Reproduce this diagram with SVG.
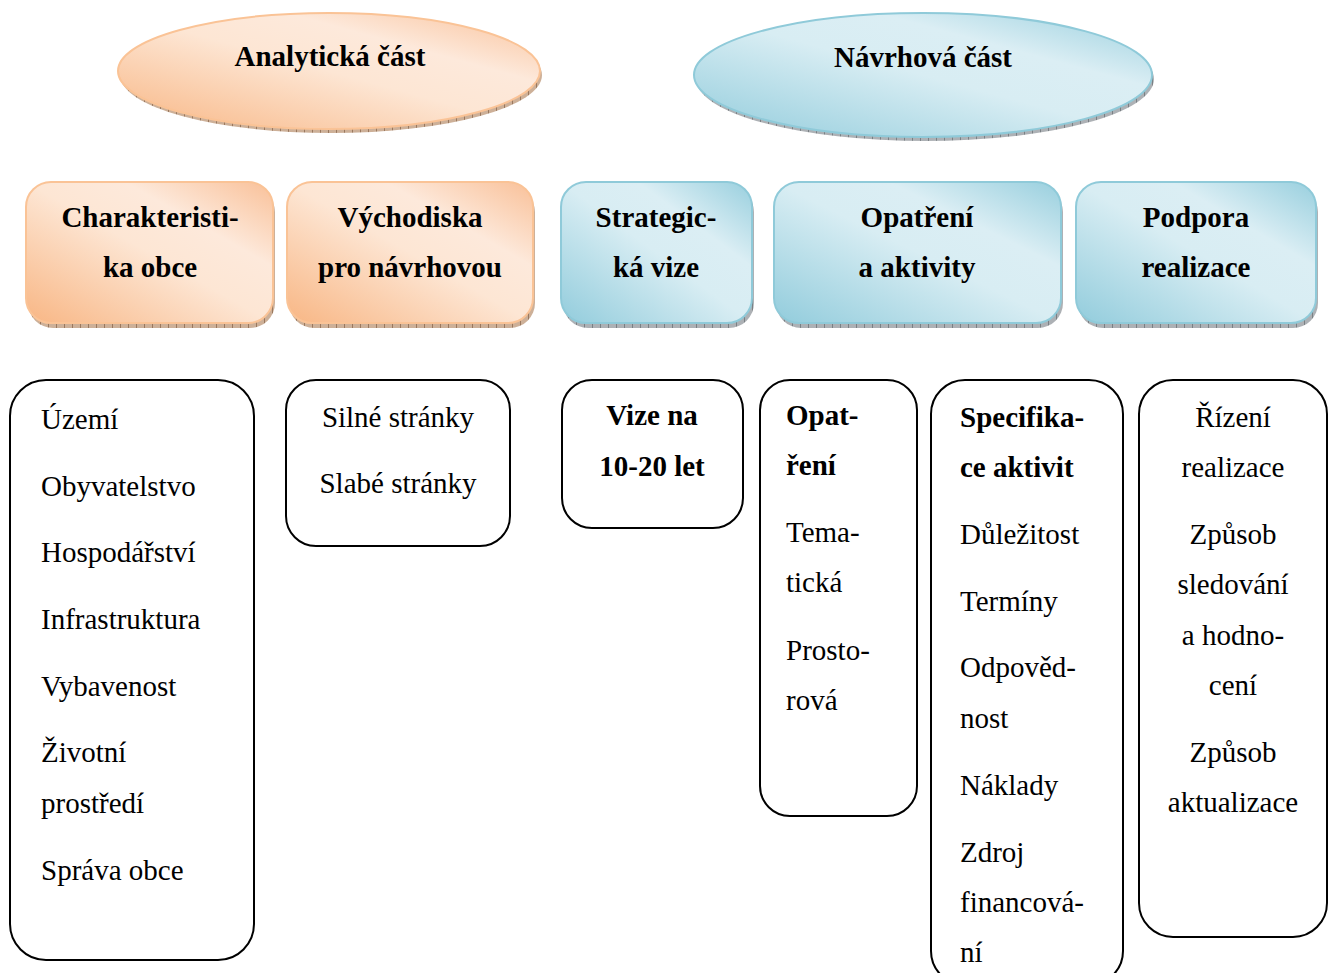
<svg xmlns="http://www.w3.org/2000/svg" width="1333" height="973" viewBox="0 0 1333 973">
<defs>
  <linearGradient id="gOr" x1="0" y1="1" x2="1" y2="0">
    <stop offset="0" stop-color="#F8B684"/>
    <stop offset="0.5" stop-color="#FDE6D4"/>
    <stop offset="0.7" stop-color="#FDE9DB"/>
    <stop offset="1" stop-color="#F9C098"/>
  </linearGradient>
  <linearGradient id="gBl" x1="0" y1="1" x2="1" y2="0">
    <stop offset="0" stop-color="#92CCDC"/>
    <stop offset="0.5" stop-color="#D8EDF3"/>
    <stop offset="0.7" stop-color="#DBEEF4"/>
    <stop offset="1" stop-color="#98CFDE"/>
  </linearGradient>
  <pattern id="hOr" width="8" height="8" patternUnits="userSpaceOnUse">
    <rect width="8" height="8" fill="#CDB098"/>
    <line x1="0.5" y1="0" x2="0.5" y2="8" stroke="#9A785E" stroke-width="1"/>
  </pattern>
  <pattern id="hBl" width="8" height="8" patternUnits="userSpaceOnUse">
    <rect width="8" height="8" fill="#ADB1B5"/>
    <line x1="0.5" y1="0" x2="0.5" y2="8" stroke="#7A8084" stroke-width="1"/>
  </pattern>
</defs>
<style>
  .t { font-family: "Liberation Serif", "Times New Roman", serif; font-size: 29px; fill: #000; }
  .b { font-weight: bold; }
  .m { text-anchor: middle; }
  .or { fill: url(#gOr); stroke: #FAC396; stroke-width: 2; }
  .bl { fill: url(#gBl); stroke: #8FCAD9; stroke-width: 2; }
  .shO { fill: url(#hOr); }
  .shB { fill: url(#hBl); }
  .box { fill: #FFFFFF; stroke: #000; stroke-width: 2; }
</style>
<rect width="1333" height="973" fill="#FFFFFF"/>

<g id="connectors"></g>

<g id="analyticka">
  <ellipse class="shO" cx="331" cy="75" rx="211" ry="58"/>
  <ellipse class="or" cx="329" cy="71" rx="211" ry="58"/>
  <text class="t b m" x="330" y="66">Analytická část</text>
</g>
<g id="navrhova">
  <ellipse class="shB" cx="925" cy="79" rx="229" ry="62"/>
  <ellipse class="bl" cx="923" cy="75" rx="229" ry="62"/>
  <text class="t b m" x="923" y="67">Návrhová část</text>
</g>

<g id="charakteristika">
  <rect class="shO" x="28" y="187" width="247" height="141" rx="25"/>
  <rect class="or" x="26" y="182" width="247" height="141" rx="25"/>
  <text class="t b m" x="150" y="227">Charakteristi-</text>
  <text class="t b m" x="150" y="277">ka obce</text>
</g>
<g id="vychodiska">
  <rect class="shO" x="289" y="187" width="246" height="141" rx="25"/>
  <rect class="or" x="287" y="182" width="246" height="141" rx="25"/>
  <text class="t b m" x="410" y="227">Východiska</text>
  <text class="t b m" x="410" y="277">pro návrhovou</text>
</g>
<g id="strategicka">
  <rect class="shB" x="563" y="187" width="191" height="141" rx="25"/>
  <rect class="bl" x="561" y="182" width="191" height="141" rx="25"/>
  <text class="t b m" x="656" y="227">Strategic-</text>
  <text class="t b m" x="656" y="277">ká vize</text>
</g>
<g id="opatreni">
  <rect class="shB" x="776" y="187" width="287" height="141" rx="25"/>
  <rect class="bl" x="774" y="182" width="287" height="141" rx="25"/>
  <text class="t b m" x="917" y="227">Opatření</text>
  <text class="t b m" x="917" y="277">a aktivity</text>
</g>
<g id="podpora">
  <rect class="shB" x="1078" y="187" width="240" height="141" rx="25"/>
  <rect class="bl" x="1076" y="182" width="240" height="141" rx="25"/>
  <text class="t b m" x="1196" y="227">Podpora</text>
  <text class="t b m" x="1196" y="277">realizace</text>
</g>

<g id="list-charakteristika">
  <rect class="box" x="10" y="380" width="244" height="580" rx="36"/>
  <text class="t" x="41" y="429">Území</text>
  <text class="t" x="41" y="496">Obyvatelstvo</text>
  <text class="t" x="41" y="562">Hospodářství</text>
  <text class="t" x="41" y="629">Infrastruktura</text>
  <text class="t" x="41" y="696">Vybavenost</text>
  <text class="t" x="41" y="762">Životní</text>
  <text class="t" x="41" y="813">prostředí</text>
  <text class="t" x="41" y="880">Správa obce</text>
</g>
<g id="list-vychodiska">
  <rect class="box" x="286" y="380" width="224" height="166" rx="30"/>
  <text class="t m" x="398" y="427">Silné stránky</text>
  <text class="t m" x="398" y="493">Slabé stránky</text>
</g>
<g id="list-vize">
  <rect class="box" x="562" y="380" width="181" height="148" rx="30"/>
  <text class="t b m" x="652" y="425">Vize na</text>
  <text class="t b m" x="652" y="476">10-20 let</text>
</g>
<g id="list-opatreni">
  <rect class="box" x="760" y="380" width="157" height="436" rx="30"/>
  <text class="t b" x="786" y="425">Opat-</text>
  <text class="t b" x="786" y="475">ření</text>
  <text class="t" x="786" y="542">Tema-</text>
  <text class="t" x="786" y="592">tická</text>
  <text class="t" x="786" y="660">Prosto-</text>
  <text class="t" x="786" y="710">rová</text>
</g>
<g id="list-specifikace">
  <rect class="box" x="931" y="380" width="192" height="605" rx="34"/>
  <text class="t b" x="960" y="427">Specifika-</text>
  <text class="t b" x="960" y="477">ce aktivit</text>
  <text class="t" x="960" y="544">Důležitost</text>
  <text class="t" x="960" y="611">Termíny</text>
  <text class="t" x="960" y="677">Odpověd-</text>
  <text class="t" x="960" y="728">nost</text>
  <text class="t" x="960" y="795">Náklady</text>
  <text class="t" x="960" y="862">Zdroj</text>
  <text class="t" x="960" y="912">financová-</text>
  <text class="t" x="960" y="962">ní</text>
</g>
<g id="list-podpora">
  <rect class="box" x="1139" y="380" width="188" height="557" rx="34"/>
  <text class="t m" x="1233" y="427">Řízení</text>
  <text class="t m" x="1233" y="477">realizace</text>
  <text class="t m" x="1233" y="544">Způsob</text>
  <text class="t m" x="1233" y="594">sledování</text>
  <text class="t m" x="1233" y="645">a hodno-</text>
  <text class="t m" x="1233" y="695">cení</text>
  <text class="t m" x="1233" y="762">Způsob</text>
  <text class="t m" x="1233" y="812">aktualizace</text>
</g>
</svg>
